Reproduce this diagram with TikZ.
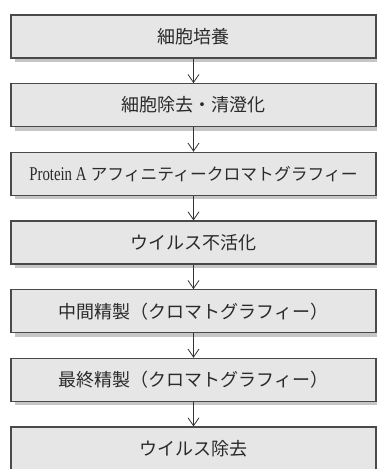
\documentclass[tikz,border=0pt]{standalone}
\usepackage{fontspec}
\setmainfont{Liberation Serif}
\newfontfamily\cjk{Noto Sans CJK JP}
\newfontfamily\latinnarrow[FakeStretch=0.76]{Liberation Serif}
\usetikzlibrary{arrows.meta,shadows}
\definecolor{boxfill}{HTML}{E6E6E7}
\definecolor{boxline}{HTML}{4A4A4A}
\definecolor{shadowgray}{HTML}{C6C6C6}
\definecolor{arrowgray}{HTML}{333333}
\definecolor{textgray}{HTML}{2A2A2A}
\tikzset{
  stepbox/.style={draw=boxline, line width=1.1pt, fill=boxfill,
    minimum width=365pt, minimum height=43pt, inner sep=0pt,
    general shadow={fill=shadowgray, draw=none, shadow xshift=4pt, shadow yshift=-4pt},
    font=\cjk\fontsize{18}{20}\selectfont, text=textgray},
  flow/.style={draw=arrowgray, line width=0.8pt, -{Straight Barb[length=8pt,width=11pt,line width=0.8pt]}}
}
\begin{document}
\begin{tikzpicture}[x=1pt,y=1pt]
\useasboundingbox (0,0) rectangle (377,-469);
\node[stepbox] (s1) at (193.5,-36.5) {細胞培養};
\node[stepbox] (s2) at (193.5,-105.2) {細胞除去・清澄化};
\node[stepbox] (s3) at (193.5,-173.8) {{\latinnarrow\fontsize{19.5}{22}\selectfont Protein A}\hspace{4pt}{\fontsize{16.8}{20}\selectfont アフィニティークロマトグラフィー}};
\node[stepbox] (s4) at (193.5,-242.5) {ウイルス不活化};
\node[stepbox] (s5) at (193.5,-311.2) {中間精製（クロマトグラフィー）};
\node[stepbox] (s6) at (193.5,-379.8) {最終精製（クロマトグラフィー）};
\node[stepbox] (s7) at (193.5,-448.5) {ウイルス除去};
\draw[flow] (s1.south) -- (s2.north);
\draw[flow] (s2.south) -- (s3.north);
\draw[flow] (s3.south) -- (s4.north);
\draw[flow] (s4.south) -- (s5.north);
\draw[flow] (s5.south) -- (s6.north);
\draw[flow] (s6.south) -- (s7.north);
\end{tikzpicture}
\end{document}
